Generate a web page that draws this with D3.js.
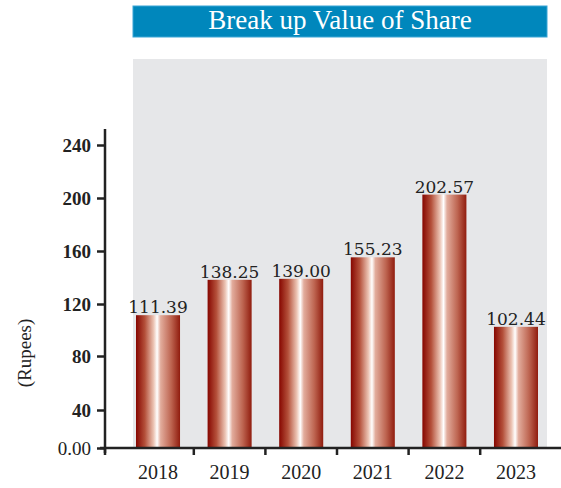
<!DOCTYPE html>
<meta charset="utf-8">
<style>
body { margin: 0; background: #fff; }
svg { display: block; }
.ytick { font: bold 19px "Liberation Serif", serif; fill: #222; }
.xtick { font: 20px "Liberation Serif", serif; fill: #222; }
.val { font: 17px "DejaVu Serif", serif; fill: #222; }
</style>
<svg width="561" height="488">
  <defs>
    <linearGradient id="barfill" x1="0" x2="1" y1="0" y2="0">
      <stop offset="0" stop-color="#860600"/>
      <stop offset="0.2" stop-color="#b4503a"/>
      <stop offset="0.4" stop-color="#ecc4b4"/>
      <stop offset="0.48" stop-color="#ffffff"/>
      <stop offset="0.56" stop-color="#e2ac9c"/>
      <stop offset="0.8" stop-color="#bd6450"/>
      <stop offset="1" stop-color="#901c0e"/>
    </linearGradient>
  </defs>
</svg>
<script src="https://d3js.org/d3.v7.min.js"></script>
<script>
// values
var years = ["2018", "2019", "2020", "2021", "2022", "2023"];
var values = [111.39, 138.25, 139.00, 155.23, 202.57, 102.44];
var valueLabels = ["111.39", "138.25", "139.00", "155.23", "202.57", "102.44"];
var yTicks = [0, 40, 80, 120, 160, 200, 240];
var yTickLabels = ["0.00", "40", "80", "120", "160", "200", "240"];
// the original axis is not evenly spaced near zero
var yTickPos = [448, 410, 356, 304, 251, 198, 145];

var svg = d3.select("svg"),
  width = +svg.attr("width"),
  height = +svg.attr("height");

// title bar
svg.append("rect")
  .attr("x", 133).attr("y", 6).attr("width", 414).attr("height", 31)
  .attr("fill", "#0087bc").attr("stroke", "#3aa6d6").attr("stroke-width", 1);
svg.append("text")
  .attr("x", 340).attr("y", 29)
  .attr("text-anchor", "middle")
  .style("font", "27px 'Liberation Serif', serif")
  .attr("fill", "#fff")
  .text("Break up Value of Share");

// grey plot panel
svg.append("rect")
  .attr("x", 133).attr("y", 59).attr("width", 414).attr("height", 389)
  .attr("fill", "#e6e7e9");

var y = d3.scaleLinear().domain(yTicks).range(yTickPos);

var x = d3.scaleBand()
  .domain(years)
  .range([136, 538])
  .paddingInner(0.385)
  .paddingOuter(0);

// bars
svg.append("g").selectAll("rect")
  .data(values)
  .enter().append("rect")
  .attr("x", function(d, i) { return x(years[i]); })
  .attr("y", function(d) { return y(d); })
  .attr("width", x.bandwidth())
  .attr("height", function(d) { return y(0) - y(d); })
  .attr("fill", "url(#barfill)");

svg.append("g").selectAll("text")
  .data(values)
  .enter().append("text")
  .attr("class", "val")
  .attr("x", function(d, i) { return x(years[i]) + x.bandwidth() / 2; })
  .attr("y", function(d) { return y(d) - 2; })
  .attr("text-anchor", "middle")
  .text(function(d, i) { return valueLabels[i]; });

// y axis
var yAxis = svg.append("g").attr("transform", "translate(105,0)")
  .call(d3.axisLeft(y).tickValues(yTicks).tickSize(8).tickPadding(6)
    .tickFormat(function(d, i) { return yTickLabels[i]; }));
yAxis.select(".domain").remove();
yAxis.append("line").attr("x1", 0).attr("x2", 0).attr("y1", 129).attr("y2", 453)
  .attr("stroke", "#222").attr("stroke-width", 2.5);
yAxis.selectAll(".tick line").attr("stroke", "#222").attr("stroke-width", 2.5);
yAxis.selectAll(".tick text").attr("class", "ytick").attr("fill", null)
  .attr("dy", "0.35em");
yAxis.selectAll(".tick text").filter(function(d) { return d === 0; })
  .style("font-weight", "normal");
yAxis.attr("font-family", null).attr("font-size", null);

// x axis
var step = x.step();
var gap = step * x.paddingInner();
var xAxis = svg.append("g").attr("transform", "translate(0," + y(0) + ")");
xAxis.append("line").attr("x1", 100).attr("x2", width).attr("y1", 0).attr("y2", 0)
  .attr("stroke", "#222").attr("stroke-width", 2.5);
xAxis.selectAll("line.sep")
  .data(years.slice(1))
  .enter().append("line")
  .attr("class", "sep")
  .attr("x1", function(d) { return x(d) - gap / 2; })
  .attr("x2", function(d) { return x(d) - gap / 2; })
  .attr("y1", 0).attr("y2", 7)
  .attr("stroke", "#222").attr("stroke-width", 2.5);
xAxis.append("line").attr("x1", 105).attr("x2", 105).attr("y1", 0).attr("y2", 7)
  .attr("stroke", "#222").attr("stroke-width", 2.5);
xAxis.selectAll("text")
  .data(years)
  .enter().append("text")
  .attr("class", "xtick")
  .attr("x", function(d) { return x(d) + x.bandwidth() / 2; })
  .attr("y", 31)
  .attr("text-anchor", "middle")
  .text(function(d) { return d; });

// y label
svg.append("text")
  .attr("transform", "translate(31,353) rotate(-90)")
  .attr("text-anchor", "middle")
  .style("font", "19px 'Liberation Serif', serif")
  .attr("fill", "#222")
  .text("(Rupees)");
</script>
